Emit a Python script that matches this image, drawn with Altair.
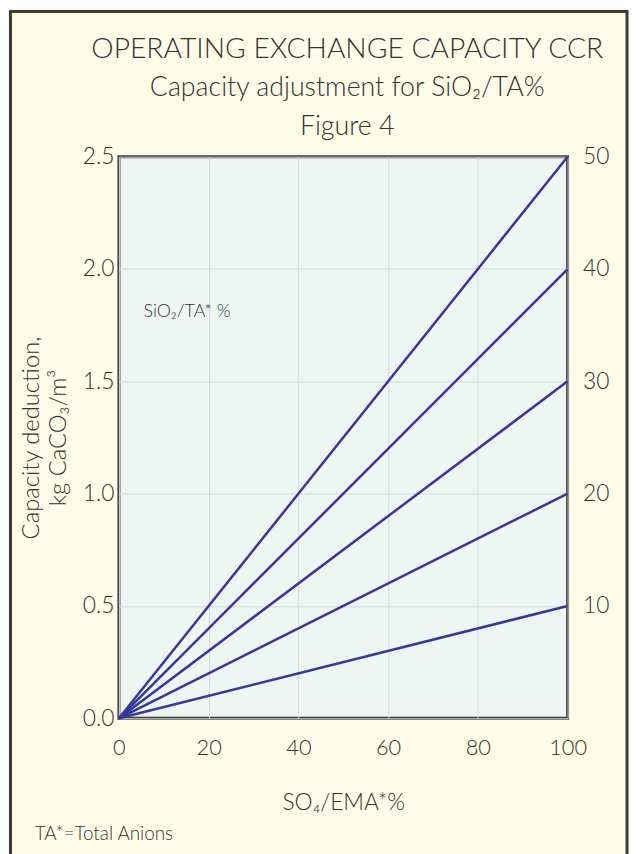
import altair as alt
import pandas as pd

# ---- data ----
so4_range = [0, 100]                      # SO4/EMA*% at the two ends of each line
sio2_pct = [10, 20, 30, 40, 50]           # SiO2/TA* % (right axis labels / series)
deduction_at_100 = [0.5, 1.0, 1.5, 2.0, 2.5]  # capacity deduction at SO4/EMA = 100 %
deduction_at_0 = [0.0, 0.0, 0.0, 0.0, 0.0]
x_ticks = [0, 20, 40, 60, 80, 100]
y_ticks = [0.0, 0.5, 1.0, 1.5, 2.0, 2.5]

rows = []
for s, d0, d1 in zip(sio2_pct, deduction_at_0, deduction_at_100):
    rows.append({"series": s, "so4": so4_range[0], "deduction": d0})
    rows.append({"series": s, "so4": so4_range[1], "deduction": d1})
df = pd.DataFrame(rows)
df_right = pd.DataFrame({"so4": [100] * len(sio2_pct), "pct": sio2_pct})
df_label = pd.DataFrame({"so4": [5.5], "deduction": [1.81], "txt": ["SiO₂/TA* %"]})
df_one = pd.DataFrame({"a": [0]})

FONT = "Lato"
W = 300
TXT = "#333333"
LINE = "#35379a"

xscale = alt.Scale(domain=[0, 100], nice=False)
yscale = alt.Scale(domain=[0, 2.5], nice=False)

lines = alt.Chart(df).mark_line(color=LINE, strokeWidth=2.5).encode(
    x=alt.X("so4:Q", scale=xscale,
            axis=alt.Axis(values=x_ticks, title="SO₄/EMA*%", format="d",
                          labelFontSize=22, labelPadding=20, titleFontSize=23,
                          titlePadding=33, titleFontWeight=W, labelFontWeight=W,
                          labelFlush=False,
                          grid=True, gridColor="#d3d8dc", gridWidth=1,
                          domain=False, ticks=False)),
    y=alt.Y("deduction:Q", scale=yscale,
            axis=alt.Axis(values=y_ticks, format=".1f",
                          title=["Capacity deduction,", "kg CaCO₃/m³"],
                          labelFontSize=23, labelPadding=5, titleFontSize=24,
                          titleFontWeight=W, labelFontWeight=W,
                          titleLineHeight=27,
                          titlePadding=12, labelFlush=False,
                          grid=True, gridColor="#d3d8dc", gridWidth=1,
                          domain=False, ticks=False)),
    detail="series:N",
)

label = alt.Chart(df_label).mark_text(
    align="left", baseline="middle", fontSize=18, font=FONT, fontWeight=W, color=TXT
).encode(x="so4:Q", y="deduction:Q", text="txt:N")

left_group = alt.layer(lines, label)

right = alt.Chart(df_right).mark_point(opacity=0).encode(
    x=alt.X("so4:Q", scale=xscale),
    y=alt.Y("pct:Q", scale=alt.Scale(domain=[0, 50], nice=False),
            axis=alt.Axis(orient="right", values=sio2_pct, title=None,
                          labelFontSize=23, labelPadding=15, grid=False,
                          labelFontWeight=W,
                          domain=False, ticks=False)),
)

border = alt.Chart(df_one).mark_rect(
    fill="transparent", stroke="#3b3b3b", strokeWidth=3
).encode(
    x=alt.value(-109.5), x2=alt.value(513), y=alt.value(-146.5), y2=alt.value(720)
)

footnote = alt.Chart(df_one).mark_text(
    align="left", baseline="middle", fontSize=19, font=FONT, fontWeight=W, color=TXT
).encode(x=alt.value(-85), y=alt.value(684), text=alt.value("TA*=Total Anions"))

chart = alt.layer(border, left_group, right, footnote).resolve_scale(
    y="independent"
).properties(
    width=453,
    height=567,
    autosize=alt.AutoSizeParams(type="none"),
    padding={"left": 112, "top": 146, "right": 62, "bottom": 145},
    background="#fffce8",
    title=alt.TitleParams(
        text="OPERATING EXCHANGE CAPACITY CCR",
        subtitle=["Capacity adjustment for SiO₂/TA%", "Figure 4"],
        anchor="middle",
        fontSize=28.5, fontWeight=W, font=FONT, color=TXT,
        subtitleFontSize=27, subtitleFont=FONT, subtitleColor=TXT,
        subtitleFontWeight=W,
        subtitleLineHeight=39, subtitlePadding=12, offset=-131, dx=4,
    ),
).configure_view(
    fill="#eef5f2", stroke="#3b3b3b", strokeWidth=3
).configure_axis(
    labelFont=FONT, titleFont=FONT, labelColor=TXT, titleColor=TXT
)

chart.save("out.html", embed_options={"renderer": "svg", "actions": False})
